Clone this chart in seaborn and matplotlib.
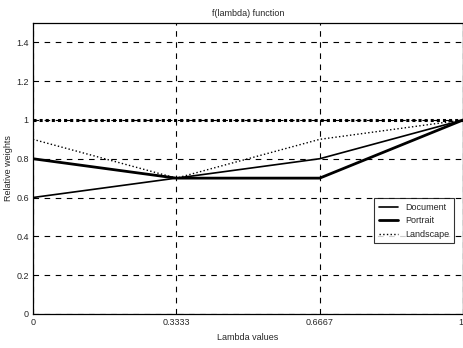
import pandas as pd
import seaborn as sns
import matplotlib.pyplot as plt

lambda_values = [0, 1/3, 2/3, 1]
document = [0.6, 0.7, 0.8, 1.0]
portrait = [0.8, 0.7, 0.7, 1.0]
landscape = [0.9, 0.7, 0.9, 1.0]
reference = [1.0, 1.0, 1.0, 1.0]
x_tick_labels = ['0', '0.3333', '0.6667', '1']
y_ticks = [0, 0.2, 0.4, 0.6, 0.8, 1.0, 1.2, 1.4]

sns.set_style('white')
plt.rcParams['font.family'] = ['Liberation Sans', 'DejaVu Sans']
plt.rcParams['font.size'] = 6.5

df = pd.DataFrame({'lambda': lambda_values * 3,
                   'weight': document + portrait + landscape,
                   'series': ['Document'] * 4 + ['Portrait'] * 4 + ['Landscape'] * 4})

fig = plt.figure(figsize=(4.64, 3.48), dpi=100)
ax = fig.add_axes([0.071, 0.098, 0.927, 0.836])

ax.plot(lambda_values, reference, color='black', linestyle=(0, (1, 1)), linewidth=2.2, zorder=3)
styles = {'Document': ('-', 1.2), 'Portrait': ('-', 2.0), 'Landscape': (':', 1.0)}
for name in ['Document', 'Portrait', 'Landscape']:
    ls, lw = styles[name]
    sub = df[df.series == name]
    sns.lineplot(data=sub, x='lambda', y='weight', ax=ax, color='black',
                 linestyle=ls, linewidth=lw, label=name)

ax.set_xlim(0, 1)
ax.set_ylim(0, 1.5)
ax.set_xticks(lambda_values)
ax.set_xticklabels(x_tick_labels)
ax.get_xticklabels()[-1].set_horizontalalignment('right')
ax.set_yticks(y_ticks)
ax.set_yticklabels(['0', '0.2', '0.4', '0.6', '0.8', '1', '1.2', '1.4'])
ax.grid(True, color='black', linestyle=(0, (5, 5)), linewidth=0.8)
ax.tick_params(direction='in', length=3, width=0.8, pad=3, labelsize=6.5)
for s in ax.spines.values():
    s.set_color('black')
    s.set_linewidth(0.9)

ax.set_title('f(lambda) function', fontsize=6.5, pad=5)
ax.set_xlabel('Lambda values', fontsize=6.5, labelpad=4)
ax.set_ylabel('Relative weights', fontsize=6.5, labelpad=2)

leg = ax.legend(loc='center right', bbox_to_anchor=(0.99, 0.32), frameon=True,
                fancybox=False, edgecolor='black', fontsize=6.5, handlelength=2.2,
                borderpad=0.5, labelspacing=0.5)
leg.get_frame().set_linewidth(0.8)

plt.savefig('out.png', dpi=100)
